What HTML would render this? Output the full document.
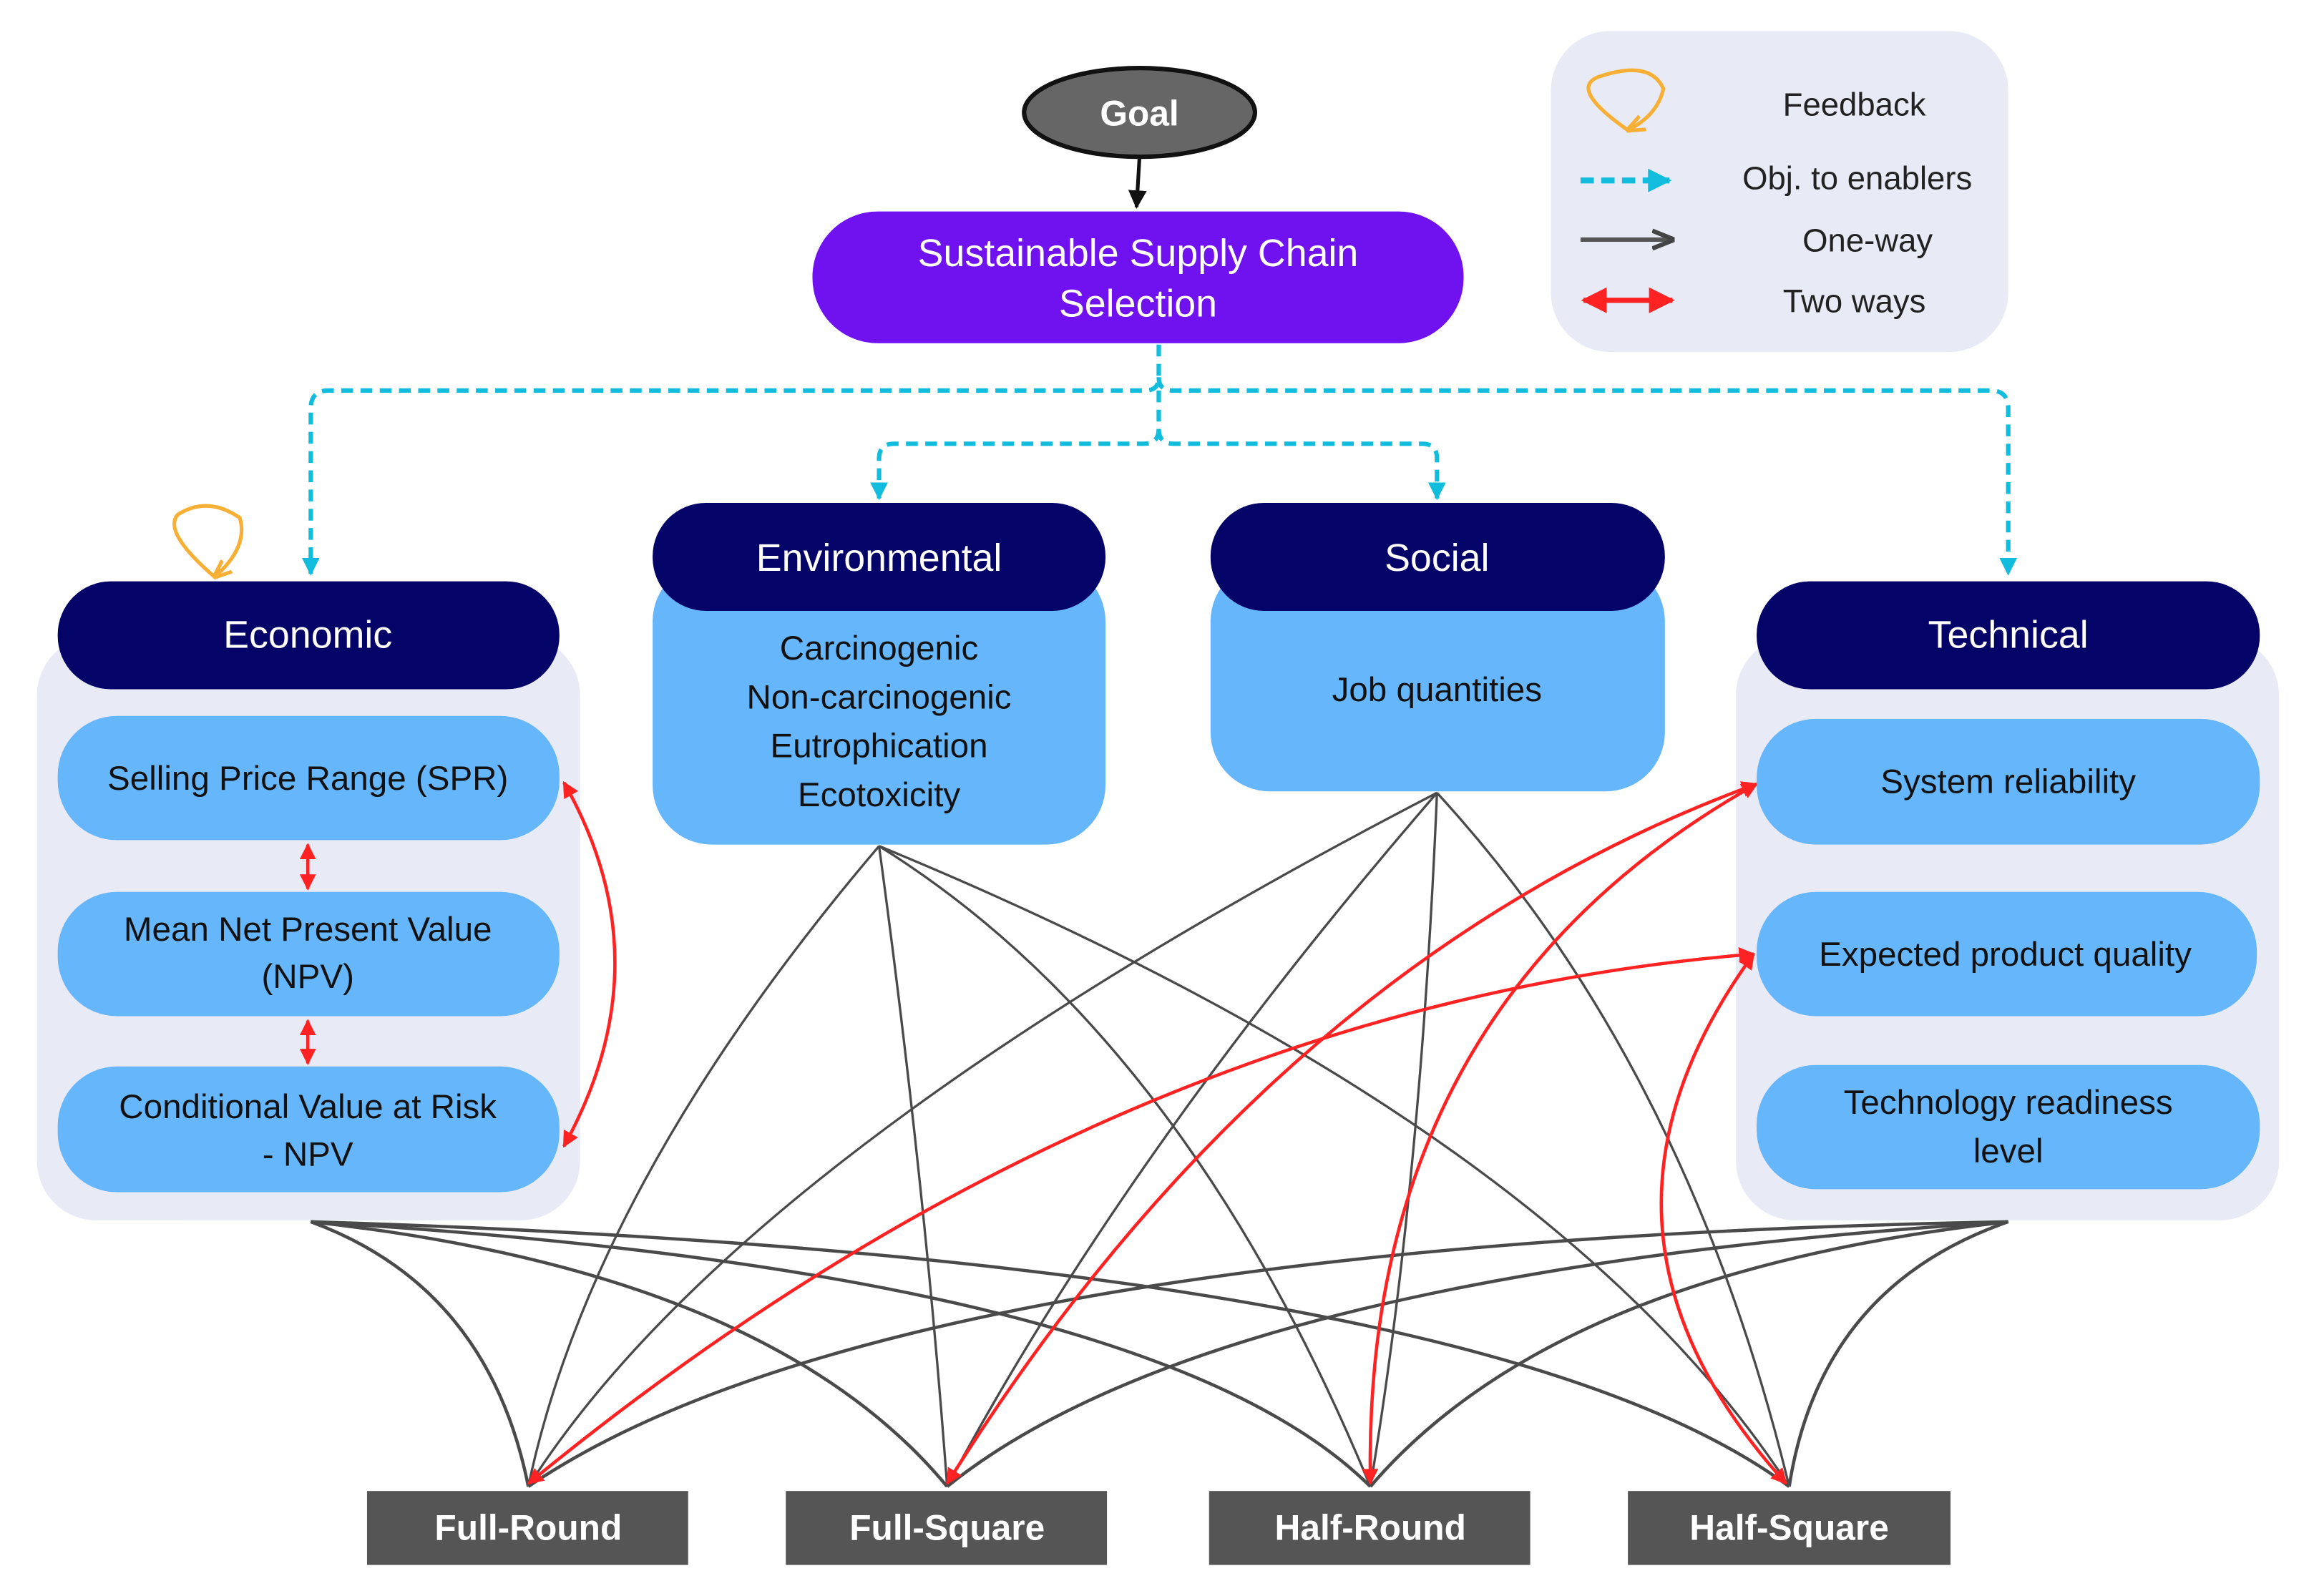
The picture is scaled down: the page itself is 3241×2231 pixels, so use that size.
<!DOCTYPE html>
<html><head><meta charset="utf-8"><style>
html,body{margin:0;padding:0;background:#fff;}
svg{display:block;}
text{font-family:"Liberation Sans",sans-serif;}
</style></head><body>
<svg width="3241" height="2231" viewBox="0 0 1567 1079" preserveAspectRatio="none" xmlns="http://www.w3.org/2000/svg">
<defs>
<marker id="ab" viewBox="0 0 10 10" refX="9" refY="5" markerWidth="5" markerHeight="5" orient="auto-start-reverse"><path d="M0,0L10,5L0,10z" fill="#111"/></marker>
<marker id="ag" viewBox="0 0 10 10" refX="9" refY="5" markerWidth="5" markerHeight="5" orient="auto-start-reverse"><path d="M0,1L10,5L0,9" fill="none" stroke="#444" stroke-width="2"/></marker>
<marker id="ar" viewBox="0 0 10 10" refX="9" refY="5" markerWidth="5" markerHeight="5" orient="auto-start-reverse"><path d="M0,0L10,5L0,10z" fill="#f22"/></marker>
<marker id="ac" viewBox="0 0 10 10" refX="9" refY="5" markerWidth="4" markerHeight="4" orient="auto-start-reverse"><path d="M0,0L10,5L0,10z" fill="#12bcdc"/></marker>
<marker id="ao" viewBox="0 0 10 10" refX="9" refY="5" markerWidth="5" markerHeight="5" orient="auto"><path d="M0,1L10,5L0,9" fill="none" stroke="#f7b035" stroke-width="2"/></marker>
</defs>

<rect x="25" y="430" width="367" height="395" rx="40" fill="#e8eaf6"/>
<rect x="1173" y="430" width="367" height="395" rx="40" fill="#e8eaf6"/>
<rect x="1048" y="21" width="309" height="217" rx="40" fill="#e8eaf6"/>

<g fill="none" stroke="#4a4a4a" stroke-width="1.6">
<path d="M594,572 Q400,800 357,1005"/>
<path d="M594,572 Q625,800 640,1005"/>
<path d="M594,572 Q800,700 926,1005"/>
<path d="M594,572 Q1050,760 1209,1005"/>
<path d="M971,536 Q500,780 357,1005"/>
<path d="M971,536 Q760,780 640,1005"/>
<path d="M971,536 Q960,800 926,1005"/>
<path d="M971,536 Q1140,720 1209,1005"/>
</g>
<g fill="none" stroke="#4a4a4a" stroke-width="2.2">
<path d="M210,826 Q330,870 357,1005"/>
<path d="M210,826 Q520,860 640,1005"/>
<path d="M210,826 Q780,860 926,1005"/>
<path d="M210,826 Q1000,850 1209,1005"/>
<path d="M1357,826 Q600,840 357,1005"/>
<path d="M1357,826 Q820,860 640,1005"/>
<path d="M1357,826 Q1050,860 926,1005"/>
<path d="M1357,826 Q1230,870 1209,1005"/>
</g>

<g fill="none" stroke="#f22" stroke-width="2.2">
<path d="M357,1003 Q750,680 1185,645" marker-start="url(#ar)" marker-end="url(#ar)"/>
<path d="M640,1003 Q860,650 1187,530" marker-start="url(#ar)" marker-end="url(#ar)"/>
<path d="M926,1003 Q920,680 1187,530" marker-start="url(#ar)" marker-end="url(#ar)"/>
<path d="M1207,1003 Q1050,830 1185,645" marker-start="url(#ar)" marker-end="url(#ar)"/>
<path d="M381,529 Q450,650 381,775" marker-start="url(#ar)" marker-end="url(#ar)"/>
<path d="M208,571 L208,601" marker-start="url(#ar)" marker-end="url(#ar)"/>
<path d="M208,690 L208,719" marker-start="url(#ar)" marker-end="url(#ar)"/>
</g>

<g fill="none" stroke="#12bcdc" stroke-width="3" stroke-dasharray="8,5">
<path d="M783,233 L783,255 Q783,264 774,264 L222,264 Q210,264 210,276 L210,388" marker-end="url(#ac)"/>
<path d="M783,255 Q783,264 792,264 L1345,264 Q1357,264 1357,276 L1357,388" marker-end="url(#ac)"/>
<path d="M783,264 L783,290 Q783,300 773,300 L604,300 Q594,300 594,310 L594,337" marker-end="url(#ac)"/>
<path d="M783,290 Q783,300 793,300 L961,300 Q971,300 971,310 L971,337" marker-end="url(#ac)"/>
</g>

<ellipse cx="770" cy="76" rx="78" ry="30" fill="#666" stroke="#111" stroke-width="3"/>
<text x="770" y="85" font-size="24" font-weight="bold" fill="#fff" text-anchor="middle">Goal</text>
<path d="M770,106 L768,140" stroke="#111" stroke-width="2.5" marker-end="url(#ab)"/>

<rect x="549" y="143" width="440" height="89" rx="44" fill="#6f12ef"/>
<text x="769" y="180" font-size="26" fill="#fff" text-anchor="middle">Sustainable Supply Chain</text>
<text x="769" y="214" font-size="26" fill="#fff" text-anchor="middle">Selection</text>

<path d="M1100,88 Q1060,60 1080,52 Q1115,40 1124,60 Q1120,78 1100,88" fill="none" stroke="#f7b035" stroke-width="2.5" marker-end="url(#ao)"/>
<text x="1253" y="78" font-size="22" fill="#222" text-anchor="middle">Feedback</text>
<path d="M1068,122 L1128,122" stroke="#12bcdc" stroke-width="4" stroke-dasharray="9,5" marker-end="url(#ac)"/>
<text x="1255" y="128" font-size="22" fill="#222" text-anchor="middle">Obj. to enablers</text>
<path d="M1068,162 L1130,162" stroke="#555" stroke-width="3" marker-end="url(#ag)"/>
<text x="1262" y="170" font-size="22" fill="#222" text-anchor="middle">One-way</text>
<path d="M1070,203 L1130,203" stroke="#f22" stroke-width="3.5" marker-start="url(#ar)" marker-end="url(#ar)"/>
<text x="1253" y="211" font-size="22" fill="#222" text-anchor="middle">Two ways</text>

<path d="M145,390 Q110,360 120,348 Q140,335 162,350 Q168,370 145,390" fill="none" stroke="#f7b035" stroke-width="2.5" marker-end="url(#ao)"/>

<rect x="39" y="393" width="339" height="73" rx="36" fill="#030368"/>
<text x="208" y="438" font-size="26" fill="#fff" text-anchor="middle">Economic</text>
<rect x="39" y="484" width="339" height="84" rx="40" fill="#66b6fb"/>
<text x="208" y="534" font-size="23" fill="#111" text-anchor="middle">Selling Price Range (SPR)</text>
<rect x="39" y="603" width="339" height="84" rx="40" fill="#66b6fb"/>
<text x="208" y="636" font-size="23" fill="#111" text-anchor="middle">Mean Net Present Value</text>
<text x="208" y="668" font-size="23" fill="#111" text-anchor="middle">(NPV)</text>
<rect x="39" y="721" width="339" height="85" rx="40" fill="#66b6fb"/>
<text x="208" y="756" font-size="23" fill="#111" text-anchor="middle">Conditional Value at Risk</text>
<text x="208" y="788" font-size="23" fill="#111" text-anchor="middle">- NPV</text>

<rect x="441" y="380" width="306" height="191" rx="40" fill="#66b6fb"/>
<rect x="441" y="340" width="306" height="73" rx="36" fill="#030368"/>
<text x="594" y="386" font-size="26" fill="#fff" text-anchor="middle">Environmental</text>
<text x="594" y="446" font-size="23" fill="#111" text-anchor="middle">Carcinogenic</text>
<text x="594" y="479" font-size="23" fill="#111" text-anchor="middle">Non-carcinogenic</text>
<text x="594" y="512" font-size="23" fill="#111" text-anchor="middle">Eutrophication</text>
<text x="594" y="545" font-size="23" fill="#111" text-anchor="middle">Ecotoxicity</text>

<rect x="818" y="380" width="307" height="155" rx="40" fill="#66b6fb"/>
<rect x="818" y="340" width="307" height="73" rx="36" fill="#030368"/>
<text x="971" y="386" font-size="26" fill="#fff" text-anchor="middle">Social</text>
<text x="971" y="474" font-size="23" fill="#111" text-anchor="middle">Job quantities</text>

<rect x="1187" y="393" width="340" height="73" rx="36" fill="#030368"/>
<text x="1357" y="438" font-size="26" fill="#fff" text-anchor="middle">Technical</text>
<rect x="1187" y="486" width="340" height="85" rx="40" fill="#66b6fb"/>
<text x="1357" y="536" font-size="23" fill="#111" text-anchor="middle">System reliability</text>
<rect x="1187" y="603" width="338" height="84" rx="40" fill="#66b6fb"/>
<text x="1355" y="653" font-size="23" fill="#111" text-anchor="middle">Expected product quality</text>
<rect x="1187" y="720" width="340" height="84" rx="40" fill="#66b6fb"/>
<text x="1357" y="753" font-size="23" fill="#111" text-anchor="middle">Technology readiness</text>
<text x="1357" y="786" font-size="23" fill="#111" text-anchor="middle">level</text>

<g fill="#555">
<rect x="248" y="1008" width="217" height="50"/>
<rect x="531" y="1008" width="217" height="50"/>
<rect x="817" y="1008" width="217" height="50"/>
<rect x="1100" y="1008" width="218" height="50"/>
</g>
<g font-size="24" font-weight="bold" fill="#fff" text-anchor="middle">
<text x="357" y="1041">Full-Round</text>
<text x="640" y="1041">Full-Square</text>
<text x="926" y="1041">Half-Round</text>
<text x="1209" y="1041">Half-Square</text>
</g>
</svg>
</body></html>
